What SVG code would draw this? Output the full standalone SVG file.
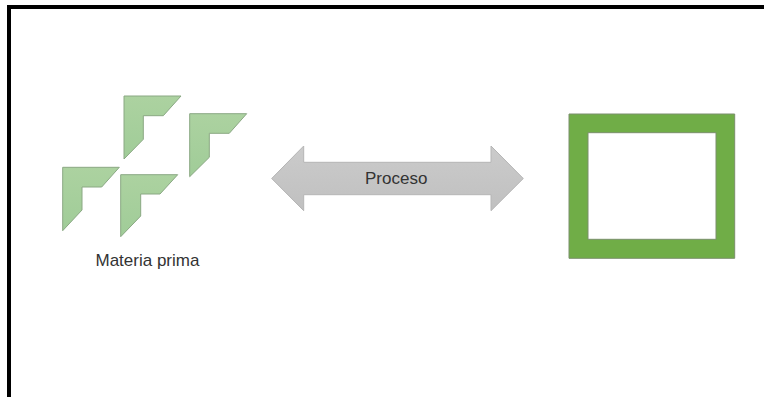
<svg xmlns="http://www.w3.org/2000/svg" width="764" height="397" viewBox="0 0 764 397">
<style>
.corner{fill:url(#g);stroke:#8aa883;stroke-width:1}
.lbl{font-family:"Liberation Sans",Arial,sans-serif;font-size:17px;fill:#333}
</style>
<defs>
<linearGradient id="g" x1="0" y1="0" x2="0" y2="1"><stop offset="0" stop-color="#acd2a0"/><stop offset="1" stop-color="#a0cc98"/></linearGradient>
<linearGradient id="a" x1="0" y1="0" x2="0" y2="1"><stop offset="0" stop-color="#cbcbcb"/><stop offset="1" stop-color="#c0c0c0"/></linearGradient>
</defs>
<rect width="764" height="397" fill="#fff"/>
<g id="border"><path d="M9 397V7H764" fill="none" stroke="#000" stroke-width="4"/></g>
<g id="materia-prima">
<path class="corner" d="M124 96H181L163.300 115.700H143.300V139.300L124 159Z"/>
<path class="corner" d="M189.700 113.700H246.700L229.300 133.300H209.300V157.300L189.700 176.700Z"/>
<path class="corner" d="M62.700 167.300H119.300L101.700 187H82V210L62.700 230.700Z"/>
<path class="corner" d="M120.700 174.700H177.700L160 194H140.700V216L120.700 236.700Z"/>
<text class="lbl" x="95.500" y="266">Materia prima</text>
</g>
<g id="proceso">
<path d="M271.700 178.500L303.700 146V162.300H491V146L523.300 178.500L491 210.700V194.700H303.700V210.700Z" fill="url(#a)" stroke="#b5b5b5" stroke-width="1"/>
<text class="lbl" x="365" y="183.500">Proceso</text>
</g>
<g id="marco">
<path d="M569 114H734.700V258.300H569ZM588 132.700V239.300H716V132.700Z" fill="#70ad47" fill-rule="evenodd" stroke="#7b8f6c" stroke-width="1"/>
</g>
<g id="connectors"/>
</svg>
